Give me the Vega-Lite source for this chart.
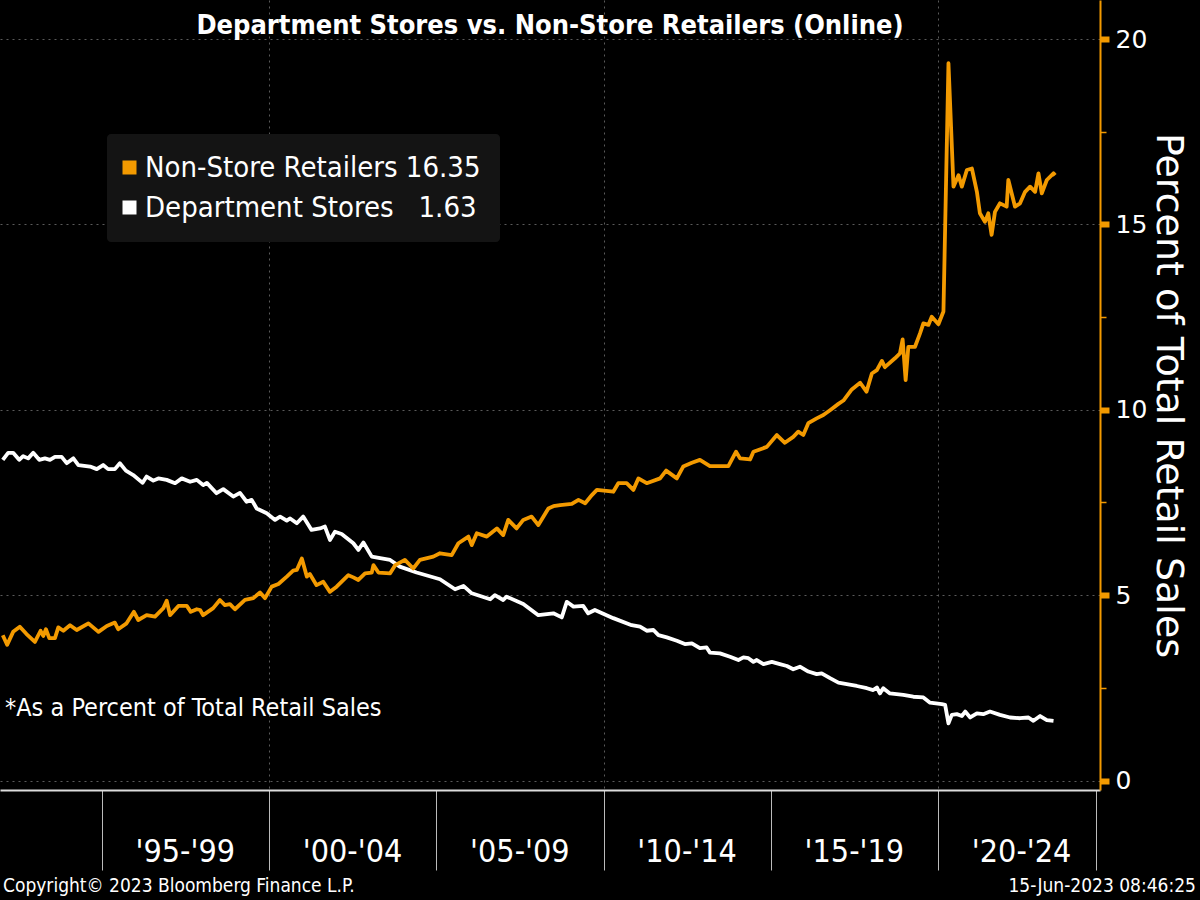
{
  "$schema": "https://vega.github.io/schema/vega-lite/v6.json",
  "width": 1100,
  "height": 790,
  "autosize": {"type": "none"},
  "padding": {"left": 0, "top": 0, "right": 100, "bottom": 110},
  "background": "#000000",
  "config": {
    "view": {"stroke": null},
    "font": "DejaVu Sans",
    "legend": {
      "title": null,
      "fillColor": "#141414",
      "cornerRadius": 4,
      "padding": 19,
      "symbolType": "square",
      "symbolSize": 196,
      "symbolStrokeWidth": 0,
      "symbolOffset": -11,
      "labelFontSize": 29,
      "labelColor": "#ffffff",
      "labelFont": "DejaVu Sans Condensed, DejaVu Sans",
      "labelLimit": 600,
      "rowPadding": 10,
      "labelOffset": 1
    }
  },
  "title": {
    "text": "Department Stores vs. Non-Store Retailers (Online)",
    "color": "#ffffff",
    "font": "Liberation Sans Narrow, DejaVu Sans Condensed, sans-serif",
    "fontSize": 27,
    "fontWeight": "bold",
    "anchor": "middle",
    "offset": 0,
    "baseline": "alphabetic",
    "dy": 61
  },
  "datasets": {
    "dept": [
      {"year":1992.04,"value":8.65},{"year":1992.20,"value":8.84},{"year":1992.35,"value":8.84},{"year":1992.53,"value":8.65},{"year":1992.65,"value":8.75},{"year":1992.80,"value":8.69},{"year":1992.95,"value":8.84},{"year":1993.13,"value":8.65},{"year":1993.30,"value":8.69},{"year":1993.45,"value":8.65},{"year":1993.60,"value":8.73},{"year":1993.80,"value":8.73},{"year":1993.95,"value":8.56},{"year":1994.15,"value":8.69},{"year":1994.30,"value":8.51},{"year":1994.65,"value":8.47},{"year":1994.85,"value":8.40},{"year":1995.04,"value":8.51},{"year":1995.19,"value":8.40},{"year":1995.39,"value":8.40},{"year":1995.54,"value":8.56},{"year":1995.72,"value":8.36},{"year":1995.94,"value":8.24},{"year":1996.22,"value":8.03},{"year":1996.34,"value":8.20},{"year":1996.54,"value":8.09},{"year":1996.69,"value":8.15},{"year":1996.94,"value":8.11},{"year":1997.19,"value":8.02},{"year":1997.39,"value":8.15},{"year":1997.64,"value":8.06},{"year":1997.84,"value":8.11},{"year":1998.03,"value":7.97},{"year":1998.14,"value":8.03},{"year":1998.43,"value":7.75},{"year":1998.63,"value":7.86},{"year":1998.93,"value":7.66},{"year":1999.13,"value":7.76},{"year":1999.33,"value":7.52},{"year":1999.48,"value":7.57},{"year":1999.63,"value":7.34},{"year":1999.93,"value":7.21},{"year":2000.18,"value":7.03},{"year":2000.33,"value":7.12},{"year":2000.53,"value":7.01},{"year":2000.63,"value":7.07},{"year":2000.83,"value":6.94},{"year":2001.02,"value":7.12},{"year":2001.27,"value":6.76},{"year":2001.52,"value":6.80},{"year":2001.67,"value":6.85},{"year":2001.82,"value":6.49},{"year":2001.97,"value":6.71},{"year":2002.17,"value":6.65},{"year":2002.52,"value":6.40},{"year":2002.67,"value":6.22},{"year":2002.82,"value":6.42},{"year":2003.07,"value":6.04},{"year":2003.32,"value":6.00},{"year":2003.62,"value":5.95},{"year":2003.91,"value":5.77},{"year":2004.41,"value":5.61},{"year":2005.11,"value":5.43},{"year":2005.56,"value":5.16},{"year":2005.81,"value":5.25},{"year":2006.06,"value":5.05},{"year":2006.61,"value":4.89},{"year":2006.75,"value":5.00},{"year":2007.00,"value":4.87},{"year":2007.10,"value":4.96},{"year":2007.60,"value":4.76},{"year":2008.05,"value":4.46},{"year":2008.50,"value":4.51},{"year":2008.75,"value":4.40},{"year":2008.90,"value":4.82},{"year":2009.10,"value":4.69},{"year":2009.39,"value":4.71},{"year":2009.54,"value":4.51},{"year":2009.74,"value":4.60},{"year":2010.29,"value":4.38},{"year":2010.84,"value":4.19},{"year":2011.09,"value":4.15},{"year":2011.29,"value":4.04},{"year":2011.49,"value":4.06},{"year":2011.64,"value":3.92},{"year":2011.89,"value":3.86},{"year":2012.19,"value":3.77},{"year":2012.43,"value":3.68},{"year":2012.64,"value":3.70},{"year":2012.88,"value":3.57},{"year":2013.08,"value":3.59},{"year":2013.18,"value":3.45},{"year":2013.48,"value":3.43},{"year":2013.78,"value":3.34},{"year":2014.03,"value":3.25},{"year":2014.18,"value":3.32},{"year":2014.33,"value":3.30},{"year":2014.48,"value":3.20},{"year":2014.58,"value":3.25},{"year":2014.78,"value":3.14},{"year":2015.03,"value":3.20},{"year":2015.27,"value":3.14},{"year":2015.48,"value":3.09},{"year":2015.67,"value":3.00},{"year":2015.87,"value":3.07},{"year":2016.12,"value":2.94},{"year":2016.37,"value":2.87},{"year":2016.52,"value":2.89},{"year":2016.77,"value":2.76},{"year":2017.02,"value":2.64},{"year":2017.27,"value":2.60},{"year":2017.57,"value":2.55},{"year":2017.87,"value":2.49},{"year":2018.06,"value":2.44},{"year":2018.17,"value":2.51},{"year":2018.26,"value":2.35},{"year":2018.36,"value":2.49},{"year":2018.56,"value":2.35},{"year":2018.96,"value":2.31},{"year":2019.26,"value":2.26},{"year":2019.56,"value":2.24},{"year":2019.76,"value":2.10},{"year":2020.11,"value":2.06},{"year":2020.21,"value":2.04},{"year":2020.31,"value":1.54},{"year":2020.41,"value":1.77},{"year":2020.56,"value":1.79},{"year":2020.71,"value":1.74},{"year":2020.81,"value":1.86},{"year":2020.96,"value":1.70},{"year":2021.16,"value":1.81},{"year":2021.35,"value":1.79},{"year":2021.55,"value":1.86},{"year":2021.85,"value":1.77},{"year":2022.15,"value":1.70},{"year":2022.45,"value":1.68},{"year":2022.70,"value":1.70},{"year":2022.85,"value":1.61},{"year":2023.05,"value":1.74},{"year":2023.25,"value":1.63},{"year":2023.45,"value":1.61}
    ],
    "nonstore": [
      {"year":1992.04,"value":3.92},{"year":1992.17,"value":3.66},{"year":1992.35,"value":4.01},{"year":1992.55,"value":4.15},{"year":1992.75,"value":3.95},{"year":1993.00,"value":3.74},{"year":1993.17,"value":4.04},{"year":1993.25,"value":3.90},{"year":1993.33,"value":4.08},{"year":1993.43,"value":3.84},{"year":1993.60,"value":3.84},{"year":1993.70,"value":4.13},{"year":1993.85,"value":4.04},{"year":1994.05,"value":4.19},{"year":1994.25,"value":4.06},{"year":1994.60,"value":4.24},{"year":1994.90,"value":4.01},{"year":1995.15,"value":4.17},{"year":1995.39,"value":4.26},{"year":1995.49,"value":4.08},{"year":1995.74,"value":4.24},{"year":1995.96,"value":4.55},{"year":1996.09,"value":4.33},{"year":1996.34,"value":4.46},{"year":1996.59,"value":4.42},{"year":1996.84,"value":4.65},{"year":1996.94,"value":4.85},{"year":1997.04,"value":4.46},{"year":1997.29,"value":4.71},{"year":1997.54,"value":4.71},{"year":1997.66,"value":4.55},{"year":1997.84,"value":4.62},{"year":1997.94,"value":4.60},{"year":1998.03,"value":4.46},{"year":1998.33,"value":4.65},{"year":1998.53,"value":4.87},{"year":1998.68,"value":4.73},{"year":1998.83,"value":4.76},{"year":1998.98,"value":4.62},{"year":1999.28,"value":4.87},{"year":1999.53,"value":4.92},{"year":1999.73,"value":5.07},{"year":1999.88,"value":4.92},{"year":2000.08,"value":5.23},{"year":2000.28,"value":5.30},{"year":2000.53,"value":5.50},{"year":2000.72,"value":5.66},{"year":2000.83,"value":5.68},{"year":2000.98,"value":5.99},{"year":2001.13,"value":5.50},{"year":2001.22,"value":5.57},{"year":2001.42,"value":5.27},{"year":2001.62,"value":5.36},{"year":2001.82,"value":5.09},{"year":2002.02,"value":5.23},{"year":2002.37,"value":5.54},{"year":2002.52,"value":5.48},{"year":2002.67,"value":5.41},{"year":2002.87,"value":5.59},{"year":2003.07,"value":5.61},{"year":2003.12,"value":5.81},{"year":2003.27,"value":5.61},{"year":2003.62,"value":5.59},{"year":2003.77,"value":5.81},{"year":2004.06,"value":5.95},{"year":2004.31,"value":5.72},{"year":2004.51,"value":5.95},{"year":2004.91,"value":6.04},{"year":2005.11,"value":6.13},{"year":2005.46,"value":6.08},{"year":2005.66,"value":6.40},{"year":2005.96,"value":6.58},{"year":2006.06,"value":6.35},{"year":2006.21,"value":6.67},{"year":2006.51,"value":6.58},{"year":2006.81,"value":6.80},{"year":2007.00,"value":6.62},{"year":2007.15,"value":7.03},{"year":2007.40,"value":6.80},{"year":2007.60,"value":7.03},{"year":2007.85,"value":7.12},{"year":2008.05,"value":6.89},{"year":2008.35,"value":7.34},{"year":2008.50,"value":7.40},{"year":2008.70,"value":7.43},{"year":2009.05,"value":7.46},{"year":2009.25,"value":7.57},{"year":2009.45,"value":7.48},{"year":2009.65,"value":7.70},{"year":2009.80,"value":7.84},{"year":2010.29,"value":7.79},{"year":2010.44,"value":8.02},{"year":2010.69,"value":8.02},{"year":2010.89,"value":7.84},{"year":2011.04,"value":8.15},{"year":2011.29,"value":8.02},{"year":2011.69,"value":8.15},{"year":2011.87,"value":8.36},{"year":2012.19,"value":8.15},{"year":2012.38,"value":8.47},{"year":2012.64,"value":8.57},{"year":2012.88,"value":8.65},{"year":2013.18,"value":8.48},{"year":2013.73,"value":8.48},{"year":2013.96,"value":8.87},{"year":2014.08,"value":8.69},{"year":2014.38,"value":8.66},{"year":2014.48,"value":8.87},{"year":2014.88,"value":9.00},{"year":2015.18,"value":9.32},{"year":2015.42,"value":9.11},{"year":2015.67,"value":9.27},{"year":2015.82,"value":9.41},{"year":2015.97,"value":9.32},{"year":2016.12,"value":9.64},{"year":2016.37,"value":9.77},{"year":2016.57,"value":9.86},{"year":2016.77,"value":9.99},{"year":2017.02,"value":10.16},{"year":2017.17,"value":10.25},{"year":2017.42,"value":10.55},{"year":2017.67,"value":10.73},{"year":2017.86,"value":10.49},{"year":2018.02,"value":10.98},{"year":2018.17,"value":11.07},{"year":2018.32,"value":11.32},{"year":2018.41,"value":11.15},{"year":2018.71,"value":11.39},{"year":2018.86,"value":11.52},{"year":2018.94,"value":11.90},{"year":2019.03,"value":10.80},{"year":2019.11,"value":11.70},{"year":2019.31,"value":11.70},{"year":2019.46,"value":12.06},{"year":2019.56,"value":12.33},{"year":2019.71,"value":12.29},{"year":2019.81,"value":12.51},{"year":2020.01,"value":12.31},{"year":2020.16,"value":12.65},{"year":2020.31,"value":19.35},{"year":2020.46,"value":16.02},{"year":2020.61,"value":16.33},{"year":2020.71,"value":16.02},{"year":2020.86,"value":16.47},{"year":2021.01,"value":16.51},{"year":2021.16,"value":15.88},{"year":2021.25,"value":15.30},{"year":2021.40,"value":15.07},{"year":2021.50,"value":15.30},{"year":2021.60,"value":14.72},{"year":2021.70,"value":15.34},{"year":2021.85,"value":15.57},{"year":2022.05,"value":15.48},{"year":2022.10,"value":16.20},{"year":2022.30,"value":15.48},{"year":2022.45,"value":15.57},{"year":2022.60,"value":15.88},{"year":2022.75,"value":16.02},{"year":2022.90,"value":15.88},{"year":2023.00,"value":16.38},{"year":2023.10,"value":15.84},{"year":2023.25,"value":16.20},{"year":2023.45,"value":16.38},{"year":2023.50,"value":16.33}
    ]
  },
  "layer": [
    {
      "data": {"name": "dept"},
      "mark": {"type": "line", "strokeWidth": 3.8, "strokeJoin": "round"},
      "encoding": {
        "x": {
          "field": "year", "type": "quantitative",
          "scale": {"domain": [1991.957, 2024.84], "nice": false, "zero": false},
          "axis": {
            "orient": "bottom",
            "values": [1995, 2000, 2005, 2010, 2015, 2020, 2024.72],
            "labelExpr": "datum.value == 1995 ? \"'95-'99\" : datum.value == 2000 ? \"'00-'04\" : datum.value == 2005 ? \"'05-'09\" : datum.value == 2010 ? \"'10-'14\" : datum.value == 2015 ? \"'15-'19\" : datum.value == 2020 ? \"'20-'24\" : ''",
            "labelOffset": 83,
            "tickSize": 80,
            "tickColor": "#bbbbbb",
            "tickWidth": 1,
            "domainColor": "#dddddd",
            "domainWidth": 2,
            "grid": false,
            "labelColor": "#ffffff",
            "labelFontSize": 32,
            "labelFont": "Liberation Sans Narrow, DejaVu Sans Condensed, sans-serif",
            "labelPadding": -34,
            "labelAngle": 0,
            "labelBaseline": "top",
            "labelAlign": "center",
            "labelFlush": false,
            "labelOverlap": false,
            "labelBound": false,
            "title": null
          }
        },
        "y": {
          "field": "value", "type": "quantitative",
          "scale": {"domain": [-0.256, 21.055], "nice": false, "zero": false},
          "axis": {
            "orient": "right",
            "values": [0, 5, 10, 15, 20],
            "tickColor": "#f39a00",
            "tickSize": 9,
            "tickWidth": 6,
            "domainColor": "#f39a00",
            "domainWidth": 2,
            "grid": true,
            "gridColor": "#5a5a5a",
            "gridDash": [2, 4],
            "gridWidth": 1,
            "labelColor": "#ffffff",
            "labelFontSize": 25,
            "labelFont": "DejaVu Sans",
            "labelPadding": 6,
            "labelFlush": false,
            "title": "Percent of Total Retail Sales",
            "titleColor": "#ffffff",
            "titleFontSize": 38,
            "titleFont": "DejaVu Sans",
            "titleFontWeight": "normal",
            "titlePadding": 2
          }
        },
        "color": {
          "datum": "Department Stores", "type": "nominal",
          "scale": {"domain": ["Non-Store Retailers", "Department Stores"], "range": ["#f39a00", "#ffffff"]},
          "legend": {
            "orient": "none", "legendX": 107, "legendY": 134,
            "labelExpr": "datum.label == 'Non-Store Retailers' ? 'Non-Store Retailers 16.35' : 'Department Stores\u00a0\u00a0\u00a01.63'",
            "encode": {"symbols": {"update": {"fill": {"scale": "color", "field": "value"}, "fillOpacity": {"value": 1}, "strokeWidth": {"value": 0}}}}
          }
        }
      }
    },
    {
      "data": {"name": "nonstore"},
      "mark": {"type": "line", "strokeWidth": 3.8, "strokeJoin": "round"},
      "encoding": {
        "x": {"field": "year", "type": "quantitative", "scale": {"domain": [1991.957, 2024.84], "nice": false, "zero": false}, "axis": null},
        "y": {"field": "value", "type": "quantitative", "scale": {"domain": [-0.256, 21.055], "nice": false, "zero": false}, "axis": null},
        "color": {
          "datum": "Non-Store Retailers", "type": "nominal",
          "scale": {"domain": ["Non-Store Retailers", "Department Stores"], "range": ["#f39a00", "#ffffff"]},
          "legend": {
            "orient": "none", "legendX": 107, "legendY": 134,
            "labelExpr": "datum.label == 'Non-Store Retailers' ? 'Non-Store Retailers 16.35' : 'Department Stores\u00a0\u00a0\u00a01.63'",
            "encode": {"symbols": {"update": {"fill": {"scale": "color", "field": "value"}, "fillOpacity": {"value": 1}, "strokeWidth": {"value": 0}}}}
          }
        }
      }
    },
    {
      "data": {"values": [{}]},
      "mark": {"type": "text", "text": "*As a Percent of Total Retail Sales", "align": "left", "baseline": "middle", "dx": 5, "fontSize": 25, "fill": "#ffffff", "font": "DejaVu Sans Condensed, DejaVu Sans"},
      "encoding": {
        "x": {
          "datum": 1991.957, "type": "quantitative",
          "scale": {"domain": [1991.957, 2024.84], "nice": false, "zero": false},
          "axis": {"orient": "bottom", "values": [2000, 2010, 2020], "grid": true, "gridColor": "#5a5a5a", "gridDash": [2, 4], "gridWidth": 1, "ticks": false, "labels": false, "domain": false, "title": null}
        },
        "y": {
          "datum": 1.96, "type": "quantitative",
          "scale": {"domain": [-0.256, 21.055], "nice": false, "zero": false},
          "axis": {"orient": "right", "values": [2.5, 7.5, 12.5, 17.5], "ticks": true, "tickSize": 6, "tickWidth": 1.5, "tickColor": "#f39a00", "labels": false, "domain": false, "grid": false, "title": null}
        }
      }
    },
    {
      "data": {"values": [{}]},
      "mark": {"type": "text", "text": "Copyright\u00a9 2023 Bloomberg Finance L.P.", "align": "left", "baseline": "middle", "dx": 3, "fontSize": 19, "fill": "#ffffff", "font": "Liberation Sans Narrow, DejaVu Sans Condensed, sans-serif"},
      "encoding": {
        "x": {"datum": 1991.957, "type": "quantitative", "scale": {"domain": [1991.957, 2024.84], "nice": false, "zero": false}, "axis": null},
        "y": {"datum": -2.85, "type": "quantitative", "scale": {"domain": [-0.256, 21.055], "nice": false, "zero": false}, "axis": null}
      }
    },
    {
      "data": {"values": [{}]},
      "mark": {"type": "text", "text": "15-Jun-2023 08:46:25", "align": "right", "baseline": "middle", "dx": 96, "fontSize": 19, "fill": "#ffffff", "font": "Liberation Sans Narrow, DejaVu Sans Condensed, sans-serif"},
      "encoding": {
        "x": {"datum": 2024.84, "type": "quantitative", "scale": {"domain": [1991.957, 2024.84], "nice": false, "zero": false}, "axis": null},
        "y": {"datum": -2.85, "type": "quantitative", "scale": {"domain": [-0.256, 21.055], "nice": false, "zero": false}, "axis": null}
      }
    }
  ],
  "resolve": {"axis": {"x": "independent", "y": "independent"}}
}
